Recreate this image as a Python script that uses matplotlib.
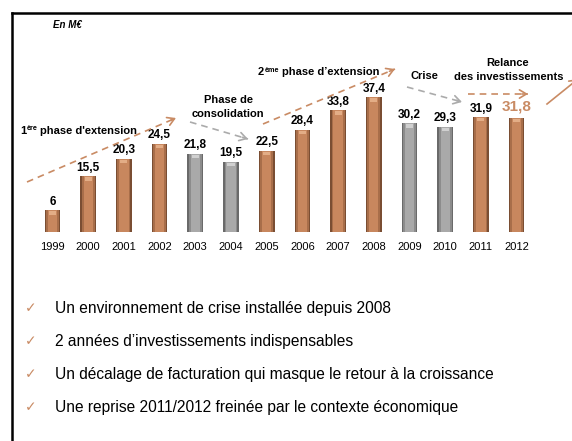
import matplotlib
matplotlib.use("Agg")
import matplotlib.pyplot as plt
from matplotlib.lines import Line2D

plt.rcParams['font.family'] = ['Liberation Sans', 'DejaVu Sans']

years = ['1999', '2000', '2001', '2002', '2003', '2004', '2005',
         '2006', '2007', '2008', '2009', '2010', '2011', '2012']
values = [6, 15.5, 20.3, 24.5, 21.8, 19.5, 22.5, 28.4, 33.8, 37.4, 30.2, 29.3, 31.9, 31.8]
labels = ['6', '15,5', '20,3', '24,5', '21,8', '19,5', '22,5',
          '28,4', '33,8', '37,4', '30,2', '29,3', '31,9', '31,8']
phase = ['up', 'up', 'up', 'up', 'down', 'down', 'up',
         'up', 'up', 'up', 'down', 'down', 'up', 'up']
bullets = ["Un environnement de crise installée depuis 2008",
           "2 années d’investissements indispensables",
           "Un décalage de facturation qui masque le retour à la croissance",
           "Une reprise 2011/2012 freinée par le contexte économique"]

W, H = 572, 441
fig = plt.figure(figsize=(W / 100, H / 100), dpi=100)
fig.patch.set_facecolor('white')


def P(x, y):
    return (x / W, 1 - y / H)


ORANGE = '#C98B64'
GRAY_A = '#ABABAB'

# bar axes: index i at pixel 52.5 + 35.7*i ; baseline at y=232, 3.6 px/unit
px0, step = 52.5, 35.7
left_px = px0 - step
ax = fig.add_axes([left_px / W, (H - 232) / H, 15 * step / W, 232 / H])
ax.set_xlim(-1, 14)
ax.set_ylim(0, 232 / 3.6)
ax.axis('off')

x = list(range(len(years)))
dark = ['#7A4E33' if p == 'up' else '#6A6A6A' for p in phase]
mid = ['#A86E4A' if p == 'up' else '#8C8C8C' for p in phase]
main = ['#C8875E' if p == 'up' else '#A9A9A9' for p in phase]
light = ['#E3AD86' if p == 'up' else '#D0D0D0' for p in phase]

ax.bar(x, values, width=0.44, color=dark, zorder=2)
ax.bar(x, values, width=0.36, color=mid, zorder=3)
ax.bar(x, values, width=0.26, color=main, zorder=4)
ax.bar(x, [0.9] * len(x), bottom=[v - 1.2 for v in values], width=0.2,
       color=light, zorder=5)

for i, (v, lab) in enumerate(zip(values, labels)):
    if i == len(values) - 1:
        ax.text(i, v + 1.2, lab, ha='center', va='bottom', fontsize=11,
                fontweight='bold', color=ORANGE)
    else:
        ax.text(i, v + 0.7, lab, ha='center', va='bottom', fontsize=8.5,
                fontweight='bold', color='black')

for i, yr in enumerate(years):
    ax.text(i, -15.5 / 3.6, yr, ha='center', va='center', fontsize=8,
            color='black')

# frame
fig.add_artist(Line2D([11.5 / W, 1], [1 - 13 / H] * 2, color='black', lw=1.8,
                      transform=fig.transFigure))
fig.add_artist(Line2D([11.5 / W] * 2, [1 - 13 / H, 0], color='black', lw=1.8,
                      transform=fig.transFigure))

fig.text(*P(53, 25), "En M€", fontsize=7, fontweight='bold', style='italic',
         va='center', ha='left')


def arrow(x0, y0, x1, y1, color, dashed=True):
    fig.add_artist(Line2D([x0 / W, x1 / W], [1 - y0 / H, 1 - y1 / H], color=color,
                          lw=1.2, ls=(0, (4, 3)) if dashed else '-',
                          transform=fig.transFigure))
    dx, dy = x1 - x0, y1 - y0
    L = (dx ** 2 + dy ** 2) ** 0.5
    sx, sy = x1 - dx / L * 6, y1 - dy / L * 6
    fig.add_artist(matplotlib.patches.FancyArrowPatch(
        P(sx, sy), P(x1, y1), transform=fig.transFigure,
        arrowstyle='->,head_length=5,head_width=3', color=color, lw=1.2,
        shrinkA=0, shrinkB=0))


arrow(27, 182, 176, 118, ORANGE)
arrow(190, 122, 248, 139, GRAY_A)
arrow(263, 124, 395, 69, ORANGE)
arrow(407, 87, 462, 102, GRAY_A)
arrow(468, 94, 528, 94, ORANGE)
arrow(547, 104, 578, 79, ORANGE, dashed=False)

fig.canvas.draw()
renderer = fig.canvas.get_renderer()


def sup_text(xpx, ypx, pieces):
    """pieces: list of (text, fontsize, raise_px, gap_after_px)"""
    cur = xpx
    for s, fs, rs, gap in pieces:
        t = fig.text(*P(cur, ypx - rs), s, fontsize=fs, fontweight='bold',
                     ha='left', va='baseline')
        bb = t.get_window_extent(renderer)
        cur += bb.width + gap


sup_text(20, 134, [("1", 8, 0, 0.5), ("ère", 5.2, 3.5, 3), ("phase d'extension", 8, 0, 0)])
sup_text(258, 75, [("2", 8, 0, 0.5), ("ème", 5.2, 3.5, 3), ("phase d’extension", 8, 0, 0)])

fig.text(*P(228, 100), "Phase de", fontsize=8, fontweight='bold', ha='center', va='center')
fig.text(*P(228, 114), "consolidation", fontsize=8, fontweight='bold', ha='center', va='center')
fig.text(*P(424, 76), "Crise", fontsize=8, fontweight='bold', ha='center', va='center')
fig.text(*P(508, 63), "Relance", fontsize=8, fontweight='bold', ha='center', va='center')
fig.text(*P(509, 77), "des investissements", fontsize=8, fontweight='bold', ha='center', va='center')

for k, b in enumerate(bullets):
    yc = 308 + k * 33.2
    fig.text(*P(31, yc), "✓", fontsize=10, color=ORANGE, ha='center', va='center',
             family=['DejaVu Sans'])
    fig.text(*P(55, yc), b, fontsize=11.2, color='black', ha='left', va='center')

fig.savefig('out.png', dpi=100, facecolor='white')
